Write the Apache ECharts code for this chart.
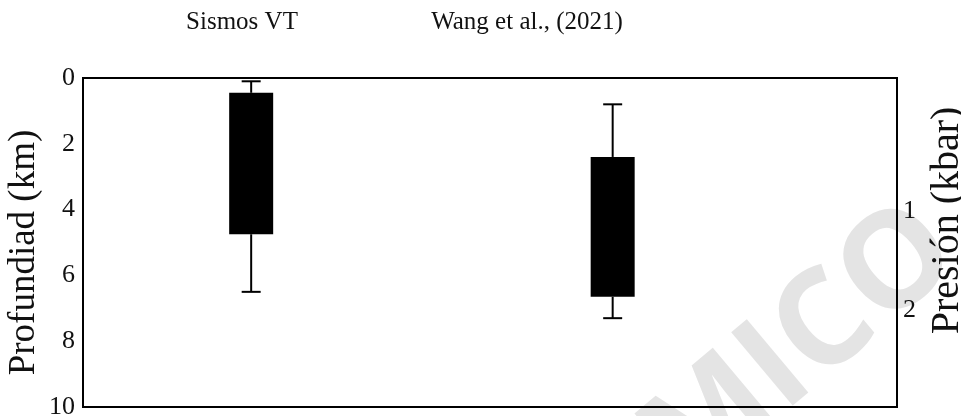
<!DOCTYPE html>
<html>
<head>
<meta charset="utf-8">
<title>Profundidad de sismos VT</title>
<script src="https://cdn.jsdelivr.net/npm/echarts@6/dist/echarts.min.js"></script>
<style>
  html, body { margin: 0; padding: 0; background: #fff; }
  #chart { width: 961px; height: 416px; }
</style>
</head>
<body>
<div id="chart"></div>
<script>
// Depth ranges (km) for each source: whisker ends and box edges
const categories = ['Sismos VT', 'Wang et al., (2021)'];
const whiskerTop = [0.1, 0.8];
const boxTop = [0.45, 2.4];
const boxBottom = [4.75, 6.65];
const whiskerBottom = [6.5, 7.3];

// Depth axis ticks (km)
const depthTicks = [0, 2, 4, 6, 8, 10];

// Pressure scale (kbar) and the depth (km) where each value sits
const pressureLabels = [1, 2];
const pressureDepths = [4.05, 7.05];

// Horizontal placement of each box on a 0–100 layout axis
const boxCenters = [20.66, 65.07];

const serif = '"Liberation Serif", "Times New Roman", serif';

const boxData = categories.map((c, i) => [
  boxCenters[i], whiskerTop[i], boxTop[i], boxBottom[i], whiskerBottom[i]
]);

function renderBox(params, api) {
  const x = api.value(0);
  const pTop = api.coord([x, api.value(1)]);
  const pQ1 = api.coord([x, api.value(2)]);
  const pQ3 = api.coord([x, api.value(3)]);
  const pBot = api.coord([x, api.value(4)]);
  const boxW = 44;
  const capW = 19;
  const stroke = { stroke: '#000', lineWidth: 2 };
  return {
    type: 'group',
    children: [
      { type: 'line', shape: { x1: pTop[0], y1: pTop[1], x2: pQ1[0], y2: pQ1[1] }, style: stroke },
      { type: 'line', shape: { x1: pQ3[0], y1: pQ3[1], x2: pBot[0], y2: pBot[1] }, style: stroke },
      { type: 'line', shape: { x1: pTop[0] - capW / 2, y1: pTop[1], x2: pTop[0] + capW / 2, y2: pTop[1] }, style: stroke },
      { type: 'line', shape: { x1: pBot[0] - capW / 2, y1: pBot[1], x2: pBot[0] + capW / 2, y2: pBot[1] }, style: stroke },
      { type: 'rect', shape: { x: pQ1[0] - boxW / 2, y: pQ1[1], width: boxW, height: pQ3[1] - pQ1[1] }, style: { fill: '#000' } }
    ]
  };
}

const chart = echarts.init(document.getElementById('chart'), null, { renderer: 'canvas' });

chart.setOption({
  backgroundColor: '#fff',
  animation: false,
  grid: {
    left: 83, right: 64, top: 78, bottom: 9,
    outerBoundsMode: 'none', containLabel: false,
    show: true, borderColor: '#000', borderWidth: 2, backgroundColor: 'transparent'
  },
  graphic: [
    {
      type: 'text', x: 242, y: 22, z: 10,
      style: { text: categories[0], textAlign: 'center', textVerticalAlign: 'middle',
               font: '25px ' + serif, fill: '#111' }
    },
    {
      type: 'text', x: 527, y: 22, z: 10,
      style: { text: categories[1], textAlign: 'center', textVerticalAlign: 'middle',
               font: '25px ' + serif, fill: '#111' }
    },
    {
      // faint background stamp
      type: 'text', x: 940, y: 232, rotation: 40 * Math.PI / 180, z: -10, silent: true,
      style: { text: 'MICO', textAlign: 'right', textVerticalAlign: 'middle',
               font: 'bold 134px "Open Sans", sans-serif', fill: '#e4e4e4' }
    }
  ],
  xAxis: {
    type: 'value', min: 0, max: 100, show: false
  },
  yAxis: [
    {
      type: 'value', inverse: true, min: 0, max: 10, interval: 2,
      position: 'left',
      name: 'Profundiad (km)', nameLocation: 'middle', nameRotate: 90, nameGap: 40,
      nameMoveOverlap: false,
      nameTextStyle: { fontFamily: serif, fontSize: 37, color: '#111', padding: [0, 20, 0, 0] },
      axisLine: { show: true, lineStyle: { color: '#000', width: 2 } },
      axisTick: { show: false },
      splitLine: { show: false },
      axisLabel: {
        margin: 8, color: '#111', fontFamily: serif, fontSize: 26,
        customValues: depthTicks
      }
    },
    {
      type: 'value', inverse: true, min: 0, max: 10,
      position: 'right',
      name: 'Presión (kbar)', nameLocation: 'middle', nameRotate: 90, nameGap: 30,
      nameMoveOverlap: false,
      nameTextStyle: { fontFamily: serif, fontSize: 40, color: '#111', padding: [0, 0, 0, 44] },
      axisLine: { show: false },
      axisTick: { show: false },
      splitLine: { show: false },
      axisLabel: {
        margin: 6, color: '#111', fontFamily: serif, fontSize: 26,
        customValues: pressureDepths,
        formatter: function (v) {
          const i = pressureDepths.indexOf(v);
          return i >= 0 ? String(pressureLabels[i]) : '';
        }
      }
    }
  ],
  series: [
    {
      type: 'custom',
      name: 'Profundidad',
      renderItem: renderBox,
      data: boxData,
      encode: { x: 0, y: [1, 2, 3, 4] },
      z: 5
    }
  ]
});
</script>
</body>
</html>
